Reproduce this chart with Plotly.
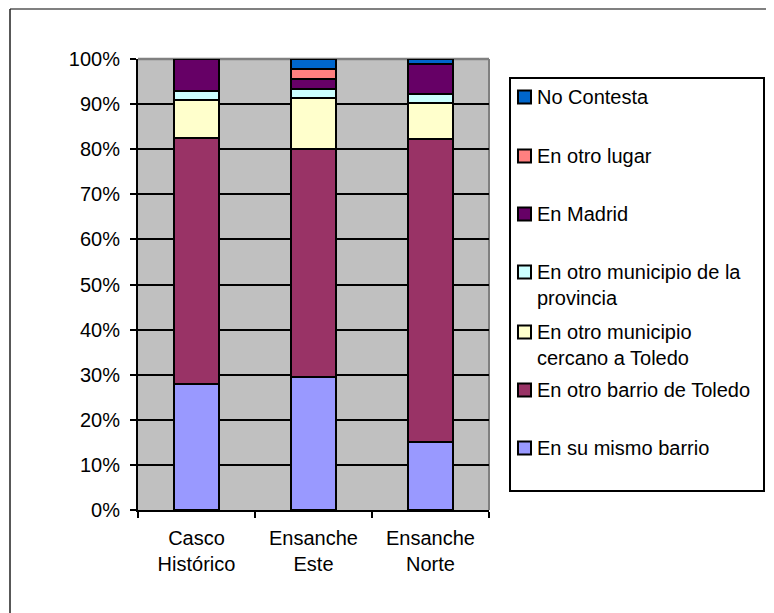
import plotly.graph_objects as go

categories = ["Casco<br>Histórico", "Ensanche<br>Este", "Ensanche<br>Norte"]

series_names = [
    "En su mismo barrio",
    "En otro barrio de Toledo",
    "En otro municipio cercano a Toledo",
    "En otro municipio de la provincia",
    "En Madrid",
    "En otro lugar",
    "No Contesta",
]
legend_labels = [
    "En su mismo barrio",
    "En otro barrio de Toledo",
    "En otro municipio<br>cercano a Toledo",
    "En otro municipio de la<br>provincia",
    "En Madrid",
    "En otro lugar",
    "No Contesta",
]
mismo_barrio = [28.0, 29.6, 15.1]
otro_barrio = [54.5, 50.4, 67.1]
municipio_cercano = [8.5, 11.4, 8.1]
municipio_provincia = [2.0, 2.0, 1.9]
madrid = [7.0, 2.1, 6.7]
otro_lugar = [0.0, 2.2, 0.0]
no_contesta = [0.0, 2.3, 1.1]
series_values = [mismo_barrio, otro_barrio, municipio_cercano,
                 municipio_provincia, madrid, otro_lugar, no_contesta]
colors = ["#9999FF", "#993366", "#FFFFCC", "#CCFFFF", "#660066", "#FF8080", "#0066CC"]
y_ticks = list(range(0, 101, 10))

# page body margin offset of 8px is compensated here
OFF = 8
W, H = 774 - OFF, 613 - OFF
L, R, T, B = 138 - OFF, 489 - OFF, 59 - OFF, 510 - OFF
FONT = "Liberation Sans, Arial, sans-serif"
FS = 20


def px(x):
    return (x - OFF - L) / (R - L)


def py(y):
    return (B - (y - OFF)) / (B - T)


fig = go.Figure()
for name, vals, col in zip(series_names, series_values, colors):
    fig.add_trace(go.Bar(
        x=categories, y=vals, name=name,
        marker=dict(color=col, line=dict(color="black", width=2)),
        width=0.39, showlegend=False,
    ))

shapes = []
# plot area gray border (top & right)
shapes.append(dict(type="line", xref="paper", yref="paper", x0=0, x1=1, y0=1, y1=1,
                   line=dict(color="#808080", width=2.5), layer="between"))
shapes.append(dict(type="line", xref="paper", yref="paper", x0=1, x1=1, y0=0, y1=1,
                   line=dict(color="#808080", width=2), layer="between"))
# outer chart border
shapes.append(dict(type="line", xref="paper", yref="paper", x0=px(10), x1=px(800),
                   y0=py(9), y1=py(9), line=dict(color="#808080", width=2)))
shapes.append(dict(type="line", xref="paper", yref="paper", x0=px(10), x1=px(10),
                   y0=py(9), y1=py(640), line=dict(color="#202020", width=1.5)))
# legend box
shapes.append(dict(type="rect", xref="paper", yref="paper", x0=px(510), x1=px(764),
                   y0=py(491), y1=py(78), line=dict(color="black", width=2),
                   fillcolor="white"))

annotations = []
entry_first_line = [97, 156, 214, 272, 332, 390, 448]
line_gap = 25.5
order = list(range(len(series_names)))[::-1]
for k, i in enumerate(order):
    label = legend_labels[i]
    nlines = label.count("<br>") + 1
    yc = entry_first_line[k]
    shapes.append(dict(type="rect", xref="paper", yref="paper",
                       x0=px(518), x1=px(531), y0=py(yc + 6.5), y1=py(yc - 6.5),
                       fillcolor=colors[i], line=dict(color="black", width=2)))
    ycenter = yc + (nlines - 1) * line_gap / 2
    annotations.append(dict(xref="paper", yref="paper", x=px(535), y=py(ycenter),
                            xanchor="left", yanchor="middle", align="left",
                            text=label, showarrow=False,
                            font=dict(family=FONT, size=FS, color="black")))

fig.update_layout(
    width=W, height=H,
    margin=dict(l=L, r=W - R, t=T, b=H - B),
    paper_bgcolor="white", plot_bgcolor="#C0C0C0",
    barmode="stack", bargap=0.61,
    font=dict(family=FONT, size=FS, color="black"),
    shapes=shapes, annotations=annotations,
    showlegend=False,
)
fig.update_xaxes(
    type="category", showgrid=False, showline=True, linecolor="black", linewidth=2,
    ticks="outside", tickson="boundaries", ticklen=6, tickwidth=2, tickcolor="black",
    ticklabelstandoff=9,
)
fig.update_yaxes(
    range=[0, 100], tickvals=y_ticks, ticktext=[f"{v}%" for v in y_ticks],
    showgrid=True, gridcolor="black", gridwidth=1.5,
    showline=True, linecolor="black", linewidth=2,
    ticks="outside", ticklen=6, tickwidth=2, tickcolor="black",
    ticklabelstandoff=6, zeroline=False,
)

fig.write_html("out.html")
